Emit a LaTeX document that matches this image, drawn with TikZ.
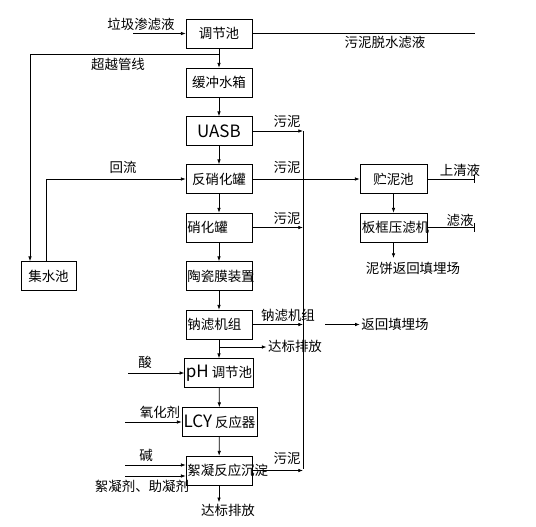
\documentclass[tikz,border=0pt]{standalone}
\usepackage{fontspec}
\setmainfont{Noto Sans CJK SC}
\usetikzlibrary{arrows.meta}
\newcommand{\lat}[1]{{\fontsize{14.5}{15}\selectfont #1}}
\tikzset{
  unit/.style={draw, minimum width=1.98cm, minimum height=0.87cm, inner sep=1pt},
  unitl/.style={unit, text width=1.9cm, align=left},
  arr/.style={-{Latex[length=4pt,width=3pt]}},
  tick/.style={-{Bar[width=7pt]}},
  lbl/.style={inner sep=1pt},
}

\begin{document}
\begin{tikzpicture}[x=0.03cm, y=-0.03cm, line width=0.6pt, font=\fontsize{11.5}{13}\selectfont]
  \useasboundingbox (0,0) rectangle (536,526);
  % main column
  \node[unit]  (tjc)  at (219,33.5)  {调节池};
  \node[unit]  (hcsx) at (219,82.5)  {缓冲水箱};
  \node[unit]  (uasb) at (219,131)   {\lat{UASB}};
  \node[unit]  (fxh)  at (219,179)   {反硝化罐};
  \node[unitl] (xh)   at (219,227.5) {硝化罐};
  \node[unitl] (tcm)  at (219,276)   {陶瓷膜装置};
  \node[unitl] (nl)   at (219,324.5) {钠滤机组};
  \node[unit]  (ph)   at (219,373)   {\lat{pH} 调节池};
  \node[unit, minimum width=2.25cm] (lcy) at (219.5,422) {\lat{LCY} 反应器};
  \node[unitl] (xn)   at (219,470.5) {絮凝反应沉淀};
  % side units
  \node[unit, minimum width=1.65cm] (jsc) at (48.5,276) {集水池};
  \node[unit, minimum width=2.01cm] (znc) at (393.5,179) {贮泥池};
  \node[unitl, minimum width=2.01cm] (bk) at (393.5,227.5) {板框压滤机};

  \foreach \a/\b in {tjc/hcsx, hcsx/uasb, uasb/fxh, fxh/xh, xh/tcm, tcm/nl, nl/ph, ph/lcy, lcy/xn}
    \draw[arr] (\a) -- (\b);

  % labels
  \node[lbl] (lj)   at (141,24)  {垃圾渗滤液};
  \node[lbl] (cy)   at (118,64)  {超越管线};
  \node[lbl] (wnls) at (385,42)  {污泥脱水滤液};
  \node[lbl] (wn1)  at (287,121) {污泥};
  \node[lbl] (hl)   at (123,167) {回流};
  \node[lbl] (wn2)  at (287,167) {污泥};
  \node[lbl] (sqy)  at (460,170) {上清液};
  \node[lbl] (wn3)  at (287,218) {污泥};
  \node[lbl] (ly)   at (460,220) {滤液};
  \node[lbl] (nb)   at (413,268) {泥饼返回填埋场};
  \node[lbl] (nlj)  at (288,315) {钠滤机组};
  \node[lbl] (fh)   at (395,324.5) {返回填埋场};
  \node[lbl] (db1)  at (295,346) {达标排放};
  \node[lbl] (suan) at (145,362) {酸};
  \node[lbl] (yhj)  at (160,412) {氧化剂};
  \node[lbl] (jian) at (146,455) {碱};
  \node[lbl] (xnj)  at (142,486) {絮凝剂、助凝剂};
  \node[lbl] (wn4)  at (287,458) {污泥};
  \node[lbl] (db2)  at (228,510) {达标排放};

  % inflow and bypass
  \coordinate (in)  at (133,33.5);
  \coordinate (out) at (475,33.5);
  \coordinate (bp)  at (219,54);
  \draw[arr] (in) -- (tjc.west);
  \draw (tjc.east) -- (out);
  \draw[arr] (bp) -| (30,0 |- jsc.north);
  \draw[arr] (46,0 |- jsc.north) |- (fxh.west);

  % sludge line
  \coordinate (s1) at (303,131);
  \coordinate (s4) at (303,469);
  \draw[arr] (uasb.east) -- (s1);
  \draw (s1) -- (s4);
  \draw[arr] (fxh.east) -- (znc.west);
  \draw[arr] (xh.east) -- (303,0 |- xh.east);
  \draw[arr] (nl.east) -- (303,0 |- nl.east);
  \draw[arr] (xn.east) -- (303,0 |- xn.east);
  \draw[arr] (325,0 |- fh.west) -- (fh.west);
  \draw[arr] (219,347) -- (219,347 -| db1.west);

  % sludge treatment
  \draw[arr] (znc) -- (bk);
  \draw[tick] (znc.east) -- (475,179);
  \draw[tick] (bk.east) -- (475,227.5);
  \draw[arr] (bk.south) -- (393.5,258);

  % dosing
  \draw[arr] (128,373) -- (ph.west);
  \draw[arr] (125,422) -- (lcy.west);
  \draw[arr] (125,465) -- (125,465 -| xn.west);
  \draw[arr] (125,476) -- (125,476 -| xn.west);
  \draw[arr] (xn.south) -- (xn.south |- db2.north);
\end{tikzpicture}
\end{document}
